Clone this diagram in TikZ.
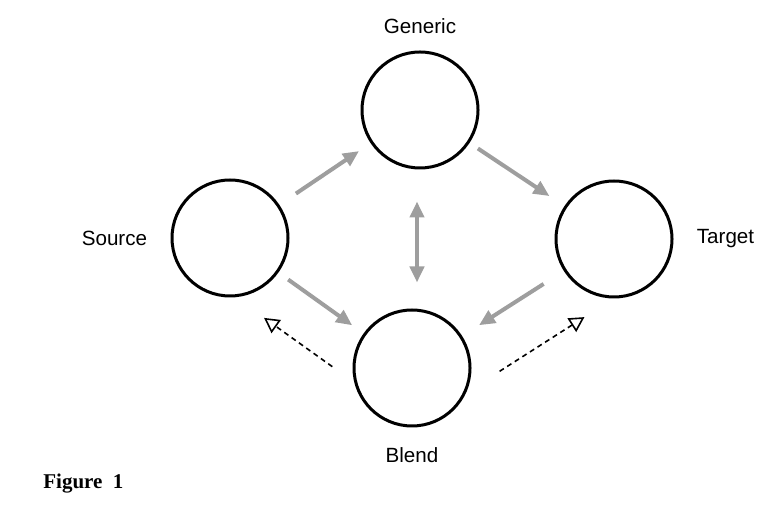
\documentclass[tikz,border=0pt]{standalone}
\usepackage{fontspec}
\setmainfont{Liberation Sans}
\newfontfamily\capfont{Liberation Serif}
\usetikzlibrary{calc}
\usetikzlibrary{arrows.meta}
\usetikzlibrary{positioning}

\tikzset{
    space/.style={circle, draw, line width=1.5pt, minimum size=58pt, inner sep=0pt},
    spacename/.style={inner sep=0pt, font=\fontsize{10.3}{12}\selectfont},
    mapping/.style={line width=2pt, draw=black!38, -{Triangle[length=8pt, width=7pt, fill=black!38]}},
    backproj/.style={line width=0.8pt, dashed, dash pattern=on 2.5pt off 2pt, -{Triangle[open, length=7.5pt, width=8pt, line width=0.8pt]}}
}

\begin{document}
\begin{tikzpicture}[x=0.5pt, y=-0.5pt]
    \useasboundingbox (0,0) rectangle (781,512);

    % the four spaces
    \node [space] (generic) at (420,110) {};
    \node [space] (source) at (230,238) {};
    \node [space] (target) at (614,239) {};
    \node [space] (blend) at (412,368) {};
    \coordinate (axis) at (417,0);

    \node [spacename, above=8pt of generic] (genericname) {Generic};
    \node [spacename, left=11.5pt of source] (sourcename) {Source};
    \node [spacename, right=11.5pt of target] (targetname) {Target};
    \node [spacename, below=10pt of blend] (blendname) {Blend};

    % projections
    \draw [mapping, shorten <=10pt, shorten >=7pt] (source) -- (generic);
    \draw [mapping, shorten <=5pt, shorten >=9pt] (generic) -- (target);
    \draw [mapping, shorten <=6pt, shorten >=7pt] (source) -- (blend);
    \draw [mapping, shorten <=12pt, shorten >=10pt] (target) -- (blend);
    \draw [mapping, {Triangle[length=8pt, width=7pt, fill=black!38]}-{Triangle[length=8pt, width=7pt, fill=black!38]}, shorten <=16pt, shorten >=13pt] (axis |- generic.south) -- (axis |- blend.north);

    % back projections
    \draw [backproj] ($(blend)!0.295!(source) + (-26,37)$) -- ($(blend)!0.67!(source) + (-26,37)$);
    \draw [backproj] ($(blend)!0.30!(target) + (27,42)$) -- ($(blend)!0.72!(target) + (27,42)$);

    \node [anchor=west, inner sep=0pt, font=\capfont\bfseries\fontsize{10.5}{12}\selectfont] (caption) at (43,484) {Figure\ \ 1};
\end{tikzpicture}
\end{document}
